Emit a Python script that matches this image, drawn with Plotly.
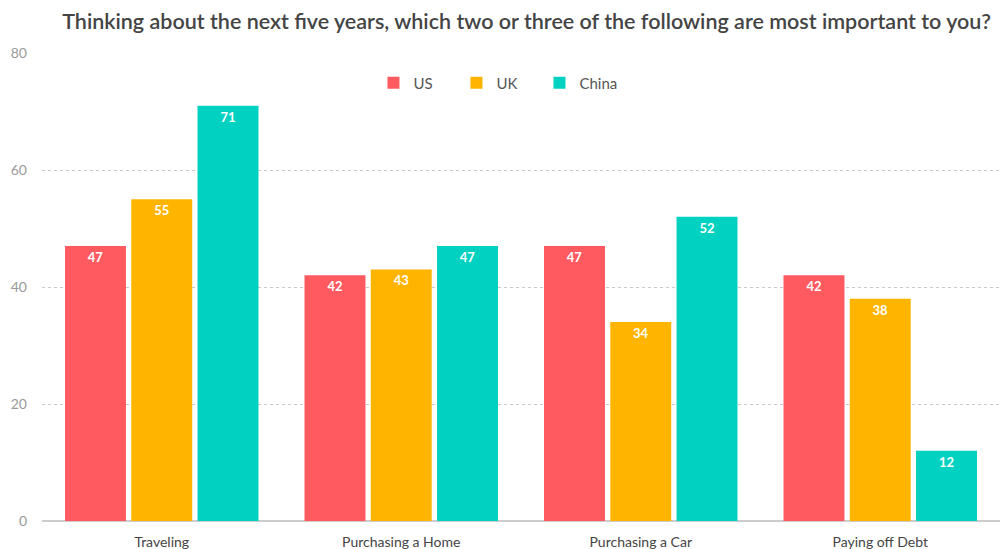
import plotly.graph_objects as go

categories = ["Traveling", "Purchasing a Home", "Purchasing a Car", "Paying off Debt"]
us = [47, 42, 47, 42]
uk = [55, 43, 34, 38]
china = [71, 47, 52, 12]
series_names = ["US", "UK", "China"]
colors = ["#FF5A5F", "#FFB400", "#00D1C1"]
y_ticks = [0, 20, 40, 60, 80]

fig = go.Figure()
for name, vals, col in zip(series_names, [us, uk, china], colors):
    fig.add_trace(go.Bar(
        x=categories, y=vals, name=name, marker_color=col, marker_line_width=0,
        text=vals, textposition="inside", insidetextanchor="end",
        textfont=dict(color="white", size=13, family="Lato", weight="bold"),
        cliponaxis=False,
    ))

fig.update_layout(
    width=1002, height=549,
    paper_bgcolor="white", plot_bgcolor="white",
    barmode="group", bargap=0.17, bargroupgap=0.08,
    margin=dict(l=42, r=2, t=53, b=28),
    font=dict(family="Lato", color="#555555"),
    title=dict(text="Thinking about the next five years, which two or three of the following are most important to you?",
               x=0.5255, xanchor="center", y=0.96, yanchor="middle",
               font=dict(size=21.5, color="#444444", family="Lato", weight=600)),
    legend=dict(orientation="h", x=0.346, xanchor="left", y=0.936, yanchor="middle",
                font=dict(size=15, color="#555555"), bgcolor="rgba(0,0,0,0)",
                entrywidth=38, entrywidthmode="pixels", traceorder="normal"),
    uniformtext=dict(minsize=8, mode="show"),
)
fig.update_yaxes(range=[0, 80], tickvals=y_ticks, showgrid=True, gridcolor="#c8c8c8",
                 griddash="dot", gridwidth=1, zeroline=True, zerolinecolor="#cccccc",
                 zerolinewidth=2, tickfont=dict(size=14, color="#999999"), ticks="",
                 ticklabelstandoff=14, showline=False, automargin=False)
fig.update_xaxes(tickfont=dict(size=14, color="#444444"), ticks="", showline=False,
                 ticklabelstandoff=11, automargin=False)

fig.write_html("out.html", config={"displayModeBar": False},
               post_script="document.body.style.margin='0';document.body.style.overflow='hidden';")
